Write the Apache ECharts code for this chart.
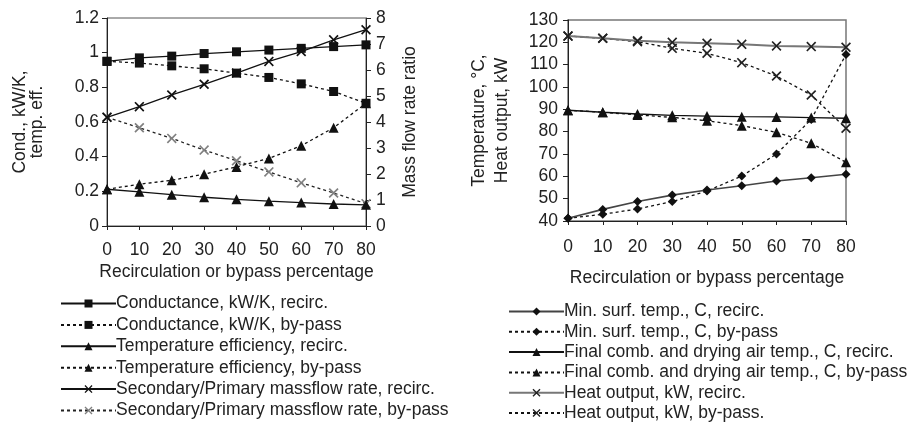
<!DOCTYPE html>
<html><head><meta charset="utf-8">
<script src="https://cdn.jsdelivr.net/npm/echarts@6/dist/echarts.min.js"></script>
<style>html,body{margin:0;padding:0;background:#fff}#c{width:915px;height:423px}</style>
</head><body><div id="c"></div>
<script>
const categories = ['0','10','20','30','40','50','60','70','80'];
// Left chart
const condRecirc   = [0.95, 0.97, 0.98, 0.995, 1.005, 1.015, 1.025, 1.035, 1.045];
const condBypass   = [0.95, 0.94, 0.924, 0.907, 0.882, 0.857, 0.82, 0.776, 0.708];
const effRecirc    = [0.212, 0.197, 0.181, 0.166, 0.154, 0.143, 0.135, 0.127, 0.122];
const effBypass    = [0.212, 0.241, 0.264, 0.299, 0.341, 0.39, 0.463, 0.567, 0.708];
const massRecirc   = [4.18, 4.59, 5.04, 5.45, 5.88, 6.33, 6.71, 7.16, 7.55];
const massBypass   = [4.18, 3.78, 3.37, 2.92, 2.51, 2.08, 1.66, 1.27, 0.86];
// Right chart
const surfRecirc   = [41.2, 45.2, 48.7, 51.6, 53.9, 55.8, 57.9, 59.4, 60.9];
const surfBypass   = [41.2, 43.0, 45.4, 48.7, 53.4, 60.1, 70.0, 85.5, 114.6];
const airRecirc    = [89.6, 88.7, 87.9, 87.3, 87.0, 86.7, 86.6, 86.3, 86.0];
const airBypass    = [89.6, 88.7, 87.5, 86.4, 84.9, 82.7, 79.7, 74.8, 66.3];
const heatRecirc   = [122.8, 121.8, 120.7, 120.0, 119.6, 119.1, 118.4, 118.1, 117.8];
const heatBypass   = [122.8, 121.8, 120.3, 117.3, 115.1, 110.9, 104.9, 96.4, 81.5];

const leftNames = ['Conductance, kW/K, recirc.','Conductance, kW/K, by-pass','Temperature efficiency, recirc.','Temperature efficiency, by-pass','Secondary/Primary massflow rate, recirc.','Secondary/Primary massflow rate, by-pass'];
const rightNames = ['Min. surf. temp., C, recirc.','Min. surf. temp., C, by-pass','Final comb. and drying air temp., C, recirc.','Final comb. and drying air temp., C, by-pass','Heat output, kW, recirc.','Heat output, kW, by-pass.'];

const FONT = 'Liberation Sans, Arial, sans-serif';
const FS = 17.5;
const X = 'path://M0,1.2L1.2,0L5,3.8L8.8,0L10,1.2L6.2,5L10,8.8L8.8,10L5,6.2L1.2,10L0,8.8L3.8,5Z';
const DOT = [3,3];

function s(name, data, xi, yi, symbol, size, dashed, lineColor, symColor, lw) {
  return {
    name, type:'line', data, xAxisIndex:xi, yAxisIndex:yi,
    symbol, symbolSize:size, showSymbol:true,
    lineStyle:{color:lineColor, width:lw||1.3, type: dashed?DOT:'solid'},
    itemStyle:{color:symColor, borderWidth:0},
    animation:false, z: dashed?2:3
  };
}
const axisLine = {lineStyle:{color:'#222', width:1}};
const lbl = {color:'#222', fontSize:FS, fontFamily:FONT};
const nts = {fontSize:FS, color:'#222', fontFamily:FONT};

const chart = echarts.init(document.getElementById('c'), null, {renderer:'canvas'});
chart.setOption({
  backgroundColor:'#fff',
  animation:false,
  textStyle:{fontFamily:FONT},
  grid:[
    {left:107, right:549, top:18, bottom:197, show:true, borderColor:'#555', borderWidth:1},
    {left:568, right:69, top:20, bottom:202, show:true, borderColor:'#777', borderWidth:1.5}
  ],
  legend:[
    {data:leftNames, orient:'vertical', left:55, top:289.5, height:140, itemWidth:55, itemHeight:10, itemGap:3.4,
     textStyle:{fontSize:FS, lineHeight:18, color:'#222', fontFamily:FONT, padding:[0,0,0,-5]}, selectedMode:false},
    {data:rightNames, orient:'vertical', left:503, top:297.5, height:140, itemWidth:55, itemHeight:10, itemGap:2.3,
     textStyle:{fontSize:FS, lineHeight:18, color:'#222', fontFamily:FONT, padding:[0,0,0,-5]}, selectedMode:false}
  ],
  xAxis:[
    {type:'category', gridIndex:0, data:categories, boundaryGap:false,
     axisLine, axisTick:{show:true, length:4, lineStyle:{color:'#222'}}, axisLabel:{...lbl, margin:15},
     splitLine:{show:false},
     name:'Recirculation or bypass percentage', nameLocation:'middle', nameGap:37, nameTextStyle:nts},
    {type:'category', gridIndex:1, data:categories, boundaryGap:false,
     axisLine, axisTick:{show:true, length:4, lineStyle:{color:'#222'}}, axisLabel:{...lbl, margin:17},
     splitLine:{show:false},
     name:'Recirculation or bypass percentage', nameLocation:'middle', nameGap:48, nameTextStyle:nts}
  ],
  yAxis:[
    {type:'value', gridIndex:0, min:0, max:1.2, interval:0.2, position:'left',
     axisLine:{show:true, ...axisLine}, axisTick:{show:true, length:5, lineStyle:{color:'#222'}},
     axisLabel:{...lbl, margin:8, formatter:v=>String(Math.round(v*10)/10)}, splitLine:{show:false},
     name:'Cond., kW/K,\ntemp. eff.', nameLocation:'middle', nameGap:61,
     nameTextStyle:{...nts, lineHeight:17}},
    {type:'value', gridIndex:0, min:0, max:8, interval:1, position:'right',
     axisLine:{show:true, ...axisLine}, axisTick:{show:true, length:5, lineStyle:{color:'#222'}},
     axisLabel:{...lbl, margin:10}, splitLine:{show:false},
     name:'Mass flow rate ratio', nameLocation:'middle', nameGap:35, nameTextStyle:nts},
    {type:'value', gridIndex:1, min:40, max:130, interval:10, position:'left',
     axisLine:{show:true, ...axisLine}, axisTick:{show:true, length:5, lineStyle:{color:'#222'}},
     axisLabel:{...lbl, margin:10}, splitLine:{show:false},
     name:'Temperature, \u00b0C,\nHeat output, kW', nameLocation:'middle', nameGap:54,
     nameTextStyle:{...nts, lineHeight:23}}
  ],
  series:[
    s(leftNames[0], condRecirc, 0, 0, 'rect', 9, false, '#111', '#111'),
    s(leftNames[1], condBypass, 0, 0, 'rect', 9, true, '#111', '#111'),
    s(leftNames[2], effRecirc, 0, 0, 'triangle', 10, false, '#111', '#111'),
    s(leftNames[3], effBypass, 0, 0, 'triangle', 10, true, '#111', '#111'),
    s(leftNames[4], massRecirc, 0, 1, X, 10, false, '#111', '#111'),
    s(leftNames[5], massBypass, 0, 1, X, 10, true, '#222', '#808080'),
    s(rightNames[0], surfRecirc, 1, 2, 'diamond', 9, false, '#444', '#111', 1.6),
    s(rightNames[1], surfBypass, 1, 2, 'diamond', 9, true, '#111', '#111'),
    s(rightNames[2], airRecirc, 1, 2, 'triangle', 10, false, '#111', '#111'),
    s(rightNames[3], airBypass, 1, 2, 'triangle', 10, true, '#111', '#111'),
    s(rightNames[4], heatRecirc, 1, 2, X, 10, false, '#777', '#222', 2),
    s(rightNames[5], heatBypass, 1, 2, X, 10, true, '#111', '#222')
  ]
});
</script></body></html>
